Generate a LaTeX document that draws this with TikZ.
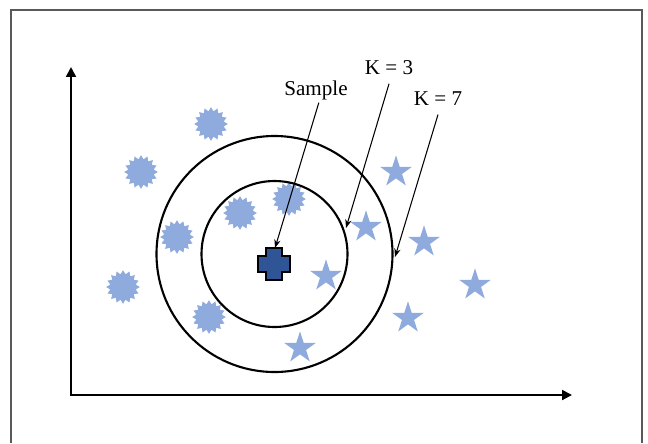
\documentclass[tikz,border=0pt]{standalone}
\usepackage{fontspec}
\setmainfont{Liberation Serif}
\usetikzlibrary{arrows.meta,shapes.geometric}
\definecolor{pointblue}{HTML}{8FAADC}
\definecolor{sampleblue}{HTML}{2F5597}
\definecolor{framegray}{HTML}{595959}

\begin{document}
\begin{tikzpicture}[
  x=0.025cm, y=-0.025cm,
  starpt/.style={star, star points=5, star point ratio=2.618, fill=pointblue, inner sep=0pt, minimum size=0.83cm},
  burstpt/.style={star, star points=16, star point ratio=1.3, fill=pointblue, inner sep=0pt, minimum size=0.84cm},
  ring/.style={draw, line width=1.5pt},
  axes/.style={{Triangle[length=7pt,width=7pt]}-{Triangle[length=7pt,width=7pt]}, line width=1.4pt},
  ptr/.style={-{Stealth[length=6pt,width=4.5pt]}, line width=0.75pt},
  lbl/.style={font=\fontsize{15}{18}\selectfont, inner sep=2pt}
]
  \useasboundingbox (0,0) rectangle (648,443);
  \draw[framegray, line width=0.8pt] (11,443) |- (642,10) -- (642,443);

  % class A and class B points
  \foreach \px/\py [count=\i] in {211/124, 141/172, 289/199, 240/213, 177/237, 123/287, 209/317}
    \node[burstpt] (burst\i) at (\px,\py) {};
  \foreach \px/\py [count=\i] in {396/172, 366/227, 424/242, 326/276, 475/285, 408/318, 300/348}
    \node[starpt] (star\i) at (\px,\py) {};

  \coordinate (ctr) at (274.5,254);
  \draw[ring] (ctr) circle[radius=73];
  \draw[ring] (ctr) circle[radius=118];

  % sample point
  \draw[fill=sampleblue, line width=1pt] (266,248) -- (282,248) -- (282,256) -- (290,256) -- (290,272) -- (282,272)
    -- (282,280) -- (266,280) -- (266,272) -- (258,272) -- (258,256) -- (266,256) -- cycle;

  \coordinate (ytop) at (71,67);
  \coordinate (xend) at (572,395);
  \draw[axes] (ytop) |- (xend);

  \node[lbl] (lblsample) at (316,90) {Sample};
  \node[lbl] (lblkthree) at (389,68) {K = 3};
  \node[lbl] (lblkseven) at (438,99) {K = 7};

  \coordinate (tipsample) at (275,248);
  \coordinate (tipkthree) at (346,228);
  \coordinate (tipkseven) at (395,257);
  \draw[ptr] ([xshift=2pt]lblsample.south) -- (tipsample);
  \draw[ptr] ([yshift=-4pt]lblkthree.south) -- (tipkthree);
  \draw[ptr] ([yshift=-4pt]lblkseven.south) -- (tipkseven);
\end{tikzpicture}
\end{document}
